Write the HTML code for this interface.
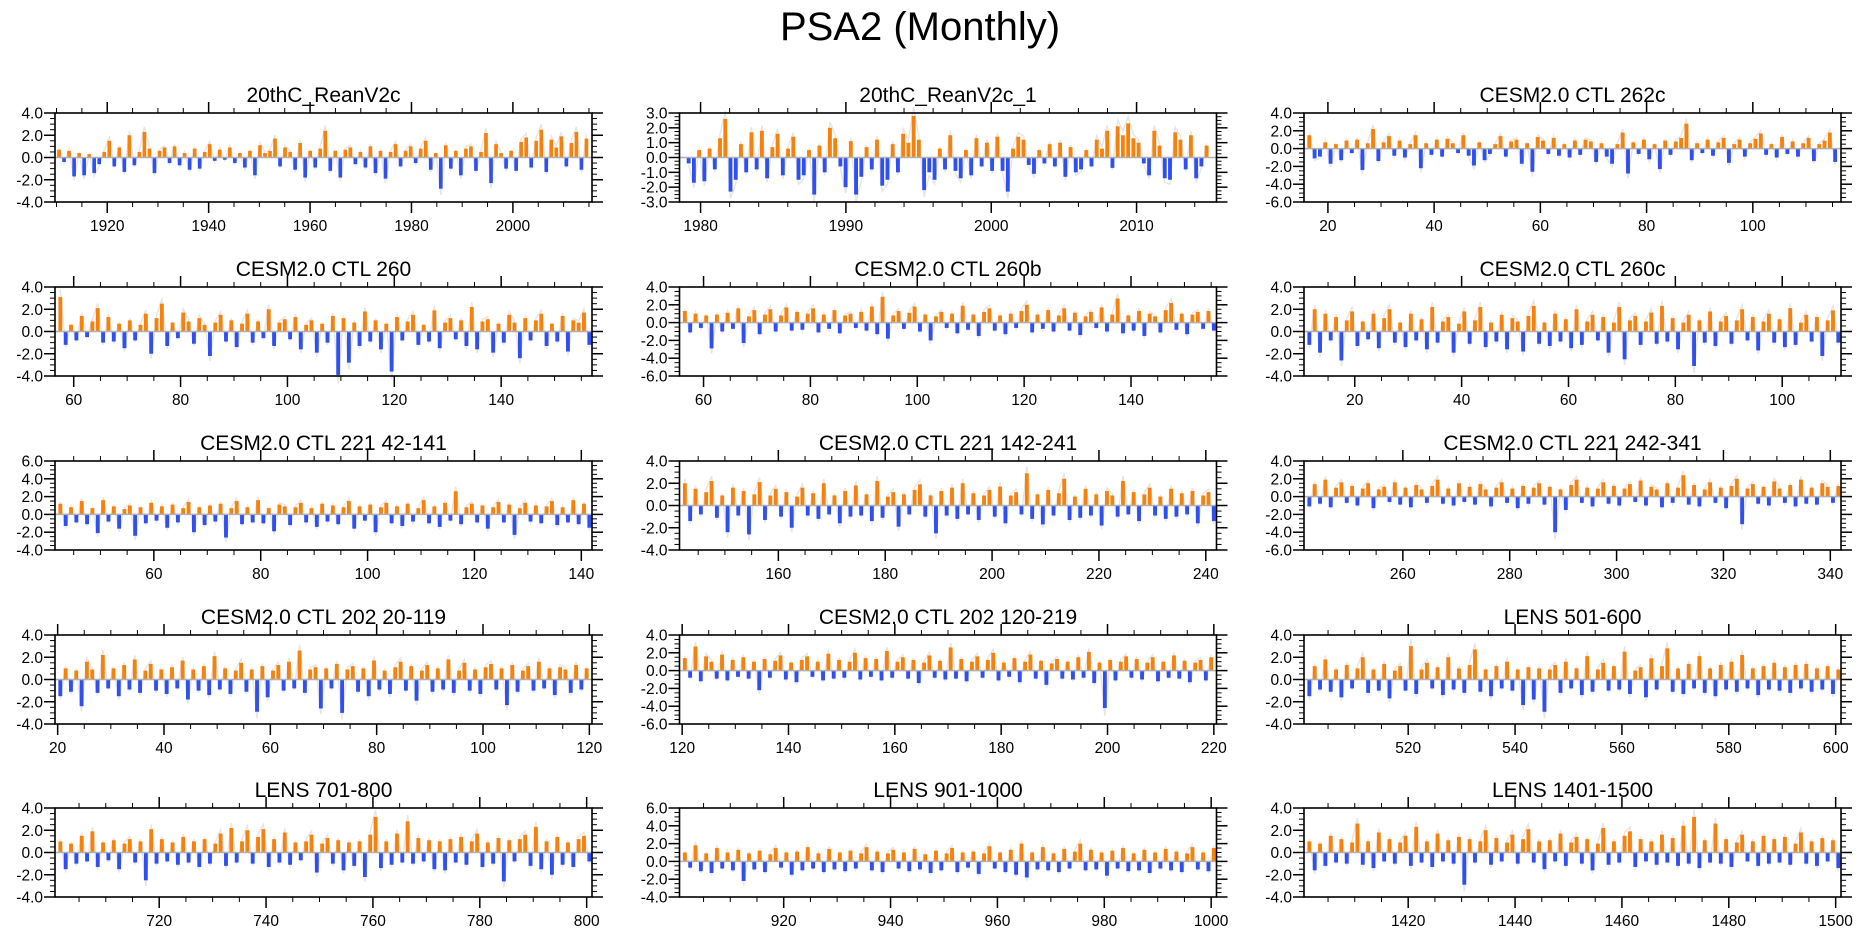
<!DOCTYPE html>
<html><head><meta charset="utf-8"><style>
body{margin:0;background:#fff;width:1861px;height:936px;overflow:hidden}
svg{display:block}
text{font-family:"Liberation Sans",sans-serif;fill:#000}
</style></head><body>
<svg id="c" width="1861" height="936">
<text x="920" y="40" font-size="40" text-anchor="middle">PSA2 (Monthly)</text>
</svg>
<script>
const titles=["20thC_ReanV2c","20thC_ReanV2c_1","CESM2.0 CTL 262c","CESM2.0 CTL 260","CESM2.0 CTL 260b","CESM2.0 CTL 260c","CESM2.0 CTL 221 42-141","CESM2.0 CTL 221 142-241","CESM2.0 CTL 221 242-341","CESM2.0 CTL 202 20-119","CESM2.0 CTL 202 120-219","LENS 501-600","LENS 701-800","LENS 901-1000","LENS 1401-1500"];
const xMin=[1909.7,1978.55,15.5,56.5,55.5,10.5,41.5,141.5,241.5,19.5,119.5,500.5,700.5,900.5,1400.5];
const xMax=[2015.6,2015.5,116.6,157,156,111,142,242,342,120.5,220.5,601,801,1001,1501];
const dataStart=[1910,1979,16,57,56,11,42,142,242,20,120,501,701,901,1401];
const dataEnd=[2015,2015,116,157,156,111,142,242,342,120,220,601,801,1001,1501];
const yMin=[-4,-3,-6,-4,-6,-4,-4,-4,-6,-4,-6,-4,-4,-4,-4];
const yMax=[4,3,4,4,4,4,6,4,4,4,4,4,4,6,4];
const yStep=[2,1,2,2,2,2,2,2,2,2,2,2,2,2,2];
const xMajor=[20,10,20,20,20,20,20,20,20,20,20,20,20,20,20];
const xMinorStep=[5,2,5,5,5,5,5,5,5,5,5,5,5,5,5];
const s1=[0.7,-0.4,0.6,-1.7,0.4,-1.6,0.3,-1.4,-0.6,0.5,1.5,-0.8,0.9,-1.3,2.0,-0.7,0.5,2.3,0.8,-1.4,0.6,0.9,-0.5,1.0,-0.7,0.4,-1.1,0.8,-1.0,0.5,1.2,-0.3,0.7,-0.2,0.9,-0.5,0.4,-0.9,0.6,-1.6,1.1,0.4,0.6,1.7,-0.8,0.9,0.5,-1.1,1.3,-1.8,0.6,-0.9,0.8,2.4,-1.2,0.6,-1.8,0.7,0.9,-0.6,0.5,-0.9,1.0,-1.4,0.6,-1.9,0.5,1.2,-0.8,0.6,1.0,-0.5,0.8,1.5,-1.1,0.4,-2.8,1.1,-1.0,0.6,-1.6,0.8,1.0,-1.2,0.5,2.2,-2.3,1.2,0.4,-1.0,0.6,-1.2,1.4,1.8,-0.9,1.5,2.5,-1.3,1.6,0.9,1.9,-0.8,1.3,2.3,-1.1,1.7];
const s2=[-0.4,-1.7,0.5,-1.6,0.6,-0.8,1.3,2.6,-2.3,-1.5,0.9,-1.0,1.7,-0.8,1.8,-1.4,0.7,1.6,-1.2,0.6,1.4,-1.5,-1.2,0.5,-2.5,0.8,-1.0,2.0,1.3,-0.6,-2.0,1.1,-2.5,-1.3,0.7,-0.8,1.2,-1.9,-1.5,0.9,-1.0,1.6,1.0,2.8,1.2,-2.2,-1.0,-1.5,0.6,-0.8,1.5,-0.9,-1.4,0.5,-1.2,1.3,-0.6,1.0,-0.9,1.4,-0.9,-2.3,0.6,1.4,1.2,-0.5,-1.1,0.5,-0.4,0.9,-0.6,1.0,-1.3,0.7,-1.0,-0.8,0.5,-0.6,1.2,0.6,1.8,-0.7,2.1,1.5,2.3,1.3,1.0,-0.4,-1.2,1.8,0.8,-1.4,-1.5,1.7,1.2,-0.8,1.5,-1.4,-0.6,0.8];
const s3=[1.5,-1.1,-0.9,0.7,-1.7,0.5,-1.3,0.9,-0.5,1.0,-2.4,0.6,2.2,-1.4,0.7,1.4,-0.8,0.9,-1.0,0.5,1.5,-2.2,0.6,-0.7,1.0,-0.9,1.1,0.6,-0.5,1.5,-0.8,-1.9,0.7,-1.3,-0.6,0.5,1.4,-0.9,0.8,1.0,-1.7,0.6,-2.6,1.3,0.9,-0.6,1.2,-0.8,0.5,-1.0,0.9,-0.7,1.0,0.8,-1.5,0.6,-0.9,-1.7,0.5,1.8,-2.8,0.7,-0.6,1.0,-1.2,0.5,-2.3,0.9,-0.7,0.8,1.2,2.8,-1.3,0.6,-0.5,1.0,-0.8,0.7,1.2,-1.6,0.5,1.0,-0.9,0.6,1.1,1.7,-0.7,0.5,-1.0,1.3,-0.6,0.8,-0.9,0.6,1.2,-1.4,0.5,0.9,1.8,-1.5];
const s4=[3.1,-1.2,0.6,-0.8,1.4,-0.5,0.9,2.1,-1.0,1.3,-0.9,0.7,-1.5,1.0,-0.8,0.6,1.6,-2.0,1.2,2.5,-1.3,0.8,-0.6,1.7,0.9,-1.1,1.2,0.6,-2.2,0.8,1.5,-0.9,1.0,-1.4,0.7,1.6,-1.0,0.9,-0.6,2.0,-1.3,0.8,1.1,-0.7,1.3,-1.6,0.6,1.0,-1.9,0.7,-1.0,1.4,-3.9,1.2,-2.8,0.8,-1.3,1.8,-0.9,1.0,-1.6,0.7,-3.6,1.3,-0.8,0.9,1.5,-1.2,0.6,-0.9,1.9,-1.5,0.8,1.2,-0.7,1.0,-1.3,2.2,-1.6,0.9,1.1,-1.9,0.7,-1.0,1.5,0.8,-2.4,1.2,-0.8,1.0,1.6,-1.3,0.7,-0.9,1.4,-1.8,1.0,0.8,1.7,-1.2];
const s5=[1.3,-1.1,1.0,-0.6,0.8,-2.9,0.9,-1.0,1.1,-0.7,1.6,-2.3,0.7,1.4,-1.3,0.9,1.5,-1.0,0.8,1.7,-0.9,1.2,-0.8,1.0,1.6,-1.1,0.9,-0.7,1.4,-1.2,0.8,1.0,-0.6,1.2,-0.9,1.8,-1.3,2.9,-1.8,0.8,1.3,-0.7,1.1,1.8,-1.0,0.9,-2.0,0.7,1.2,-0.6,1.0,-1.2,1.9,-0.8,0.9,-1.5,1.2,1.6,-0.9,0.8,-1.3,1.0,-0.6,1.3,2.0,-1.1,0.9,-0.7,1.4,-1.0,0.8,1.6,-0.9,1.1,-1.4,0.7,1.2,-0.6,1.7,-1.0,0.9,2.7,-1.2,0.8,-0.9,1.3,-1.5,1.0,0.7,-1.1,1.4,2.2,-0.8,1.0,-1.3,0.9,1.2,-0.7,1.3,-0.9];
const s6=[-1.2,2.0,-1.9,1.6,-0.8,1.3,-2.6,1.0,1.8,-1.3,0.9,-0.7,1.6,-1.5,1.2,2.0,-1.0,0.8,-1.4,1.6,-0.8,1.1,-1.6,2.2,-1.0,0.9,1.3,-1.9,0.7,1.8,-1.1,1.0,2.2,-1.4,0.8,-0.9,1.5,-1.6,1.2,0.9,-1.8,1.4,2.3,-1.1,0.8,-1.3,1.6,-0.9,1.1,-1.5,2.0,-1.2,0.9,1.5,-0.8,1.3,-1.9,0.8,2.2,-2.5,1.0,1.4,-1.2,0.9,1.7,-1.1,2.3,-0.9,1.2,-1.6,0.8,1.5,-3.1,1.0,-1.0,1.8,-1.3,0.9,1.4,-1.1,1.0,2.0,-0.8,1.3,-1.7,0.9,1.6,-1.0,1.1,-1.4,2.1,-1.2,0.8,1.5,-0.9,1.3,-2.2,1.0,1.9,-1.0];
const s7=[1.2,-1.3,0.8,-0.9,1.5,-1.1,0.7,-2.1,1.6,-0.8,0.9,-1.6,0.6,1.0,-2.4,0.8,-1.0,1.3,-0.7,0.9,-1.5,1.1,-0.9,0.7,1.4,-2.0,0.8,-1.2,1.0,-0.8,1.2,-2.6,0.7,1.5,-1.1,0.8,-0.9,1.6,-1.0,0.7,-1.9,1.1,0.9,-1.2,0.8,1.3,-0.9,0.7,-1.4,1.2,-0.8,1.0,-1.1,0.8,1.5,-1.6,0.9,-0.7,1.1,-2.0,0.8,1.3,-1.0,0.9,-1.3,1.2,-0.8,0.7,1.6,-1.0,0.9,-1.4,1.3,-0.7,2.6,-1.1,0.8,1.2,-0.9,1.0,-1.6,0.8,1.4,-0.9,1.1,-2.3,0.7,1.3,-0.8,1.0,-1.0,0.9,1.5,-1.2,0.8,-0.9,1.6,-1.1,1.2,-1.5];
const s8=[2.0,-1.4,1.5,-0.8,1.2,2.2,-1.1,0.9,-2.4,1.6,-0.9,1.3,-2.6,1.0,2.1,-1.3,0.9,1.5,-1.0,1.2,-2.0,0.8,1.6,-0.9,1.1,-1.2,2.0,-0.8,0.9,-1.6,1.3,-1.0,1.8,-0.9,1.0,-1.4,2.2,-1.1,0.8,1.2,-1.9,1.0,-0.8,1.4,1.9,-1.0,0.9,-2.5,1.3,-0.9,1.6,-1.2,2.0,-0.8,1.1,-1.3,0.9,1.4,-1.0,1.7,-1.6,0.9,1.2,-0.8,2.9,-1.2,1.0,-1.7,1.4,-0.9,1.1,2.4,-1.3,0.8,-1.1,1.5,-0.9,1.0,-1.8,1.3,0.9,-1.0,2.2,-0.8,1.2,-1.4,1.0,1.6,-0.9,0.8,-1.2,1.5,-1.0,1.1,-0.8,1.3,-1.6,0.9,1.2,-1.4];
const s9=[-1.1,1.4,-0.8,1.9,-1.2,1.0,1.6,-0.7,1.2,-1.0,0.9,1.5,-1.3,0.8,1.1,-0.6,1.6,-0.9,1.0,-1.2,1.3,0.8,-0.7,1.2,1.9,-0.8,0.9,-1.0,1.5,-0.6,1.1,-0.9,1.4,0.8,-1.1,1.0,1.6,-0.7,0.9,-1.3,1.2,-0.8,1.0,1.5,-0.9,1.1,-4.0,0.8,-1.5,1.3,1.9,-0.7,1.0,-1.1,0.9,1.6,-0.8,1.2,-1.0,0.9,1.4,-0.6,1.8,-1.0,1.1,0.8,-1.2,1.5,-0.7,1.0,2.4,-0.9,1.3,-1.1,0.8,1.6,-0.7,1.0,-1.3,1.2,2.0,-3.1,0.9,1.4,-0.8,1.1,-1.0,1.7,0.9,-0.7,1.3,-1.1,1.9,-0.8,1.0,-0.9,1.5,1.1,-0.7,1.2];
const s10=[-1.5,1.0,-1.1,0.8,-2.4,1.6,0.9,-1.2,2.2,-0.8,1.0,-1.5,1.3,-0.9,1.8,-1.2,0.8,1.4,-1.0,0.9,-1.3,1.1,-0.8,1.7,-1.8,0.9,-1.0,1.2,-1.4,2.1,-0.9,1.0,-1.3,0.8,1.5,-1.1,0.9,-2.9,1.2,-1.6,0.8,1.3,-1.0,1.6,-0.8,2.6,-1.2,0.9,1.1,-2.6,1.0,-0.8,1.4,-3.0,0.9,1.2,-1.1,1.0,-1.5,1.7,-0.9,0.8,-1.3,1.1,1.6,-1.0,1.2,-1.9,0.8,1.3,-1.1,1.0,-0.9,1.8,-1.2,0.8,1.5,-1.0,0.9,-1.3,1.1,1.4,-0.9,1.0,-2.3,1.3,-1.1,0.8,1.2,-1.0,1.6,-0.8,1.0,-1.4,1.1,0.9,-1.2,1.3,-0.9,1.0];
const s11=[1.4,-0.8,2.7,-1.2,1.6,1.0,-0.9,1.8,-1.1,1.2,-0.7,1.5,-0.9,1.0,-2.2,1.3,-0.8,1.1,1.7,-1.0,0.9,-1.3,1.2,1.6,-0.7,1.0,-1.1,1.9,-0.9,1.2,-0.8,1.0,2.0,-1.0,1.4,-0.7,1.3,-1.1,2.2,-0.8,1.0,1.5,-0.9,1.2,-1.4,0.9,1.7,-0.8,1.1,-1.0,2.6,-0.9,1.3,-1.2,1.0,1.6,-0.8,1.2,2.0,-1.1,0.9,-0.7,1.4,-1.3,1.0,1.8,-0.9,1.1,-1.6,0.8,1.3,-0.9,1.0,-1.0,1.5,-0.8,2.1,-1.4,0.9,-4.2,1.2,-1.1,1.0,1.6,-0.8,1.3,-1.0,0.9,1.5,-1.2,1.0,-0.8,1.7,-0.9,1.1,-1.3,0.9,1.2,-1.1,1.5];
const s12=[-1.5,1.2,-0.9,1.8,-1.1,0.9,-1.6,1.3,-0.8,1.0,2.0,-1.2,0.9,-1.0,1.4,-1.7,0.8,1.2,-1.0,3.0,-1.3,0.9,1.5,-0.8,1.1,-1.4,2.0,-0.9,1.0,-1.2,1.3,2.7,-1.1,0.9,-1.5,1.2,-0.8,1.6,-1.0,0.9,-2.3,1.1,-1.8,1.0,-2.9,0.9,1.3,-1.2,1.6,-0.8,1.0,-1.4,2.1,-1.1,0.9,1.5,-1.0,1.2,-0.9,2.5,-1.3,0.8,1.1,-1.6,1.9,-0.9,1.2,2.8,-1.1,1.0,-1.3,1.4,-0.8,2.1,-1.2,1.0,-1.5,1.3,-0.9,1.6,-1.1,2.2,-0.8,1.0,-1.4,1.2,-0.9,1.5,-1.0,1.1,-1.2,1.3,-0.8,1.4,-1.1,1.0,-0.9,1.2,-1.3,0.9];
const s13=[1.0,-1.5,0.8,-1.0,1.5,-0.8,1.9,-1.3,0.9,-0.7,1.1,-1.5,0.8,1.2,-0.9,1.0,-2.5,2.1,-1.0,1.2,-0.8,0.9,-1.1,1.4,-0.9,1.0,-1.3,1.2,-1.0,0.8,1.7,-1.2,2.2,-0.9,1.0,2.0,-1.0,1.4,2.1,-1.3,1.2,-0.9,1.8,-1.1,0.9,-0.7,1.0,1.6,-1.8,0.8,1.3,-1.0,1.1,-1.6,0.9,-1.2,1.0,-2.2,1.6,3.2,-1.4,1.0,-1.1,1.7,-0.9,2.8,-1.0,1.3,-0.8,1.1,-1.5,1.0,-1.6,1.2,-0.9,1.4,-1.1,1.0,1.7,-1.3,0.9,-1.0,1.3,-2.6,1.1,-0.8,1.2,1.6,-1.2,2.3,-1.5,1.0,-2.0,1.4,-1.1,0.9,-1.3,1.2,1.5,-0.8];
const s14=[1.0,-0.7,1.8,-1.1,0.9,-1.3,1.5,-0.8,1.0,-1.0,1.3,-2.2,0.9,-0.9,1.2,-1.2,0.8,1.5,-0.7,1.0,-1.5,1.1,-1.0,1.6,-0.8,0.9,-1.2,1.4,-0.9,1.0,-1.1,1.2,-0.8,0.9,1.6,-1.0,1.1,-1.2,0.9,1.3,-0.8,1.0,-1.1,1.4,-0.9,0.8,-1.3,1.2,-1.0,0.9,1.5,-1.2,1.0,-0.7,1.1,-1.4,0.9,1.7,-0.8,1.0,-1.2,1.3,-1.5,2.0,-1.8,1.0,-0.9,1.6,-1.0,0.9,-1.2,1.4,-0.8,1.1,2.0,-1.0,1.3,-0.9,1.0,-1.6,1.2,-0.8,1.5,-1.1,0.9,-1.0,1.3,-1.3,1.0,-0.8,1.4,-1.0,1.1,-1.2,0.9,1.6,-0.9,1.0,-1.1,1.5];
const s15=[1.0,-1.6,0.8,-1.2,1.5,-0.9,1.2,-1.0,0.9,2.6,-1.1,1.0,-1.4,1.8,-0.8,1.2,-1.0,0.9,1.5,-1.2,2.3,-0.9,1.0,-1.3,1.7,-0.8,1.1,-1.0,1.4,-2.9,1.2,-0.9,1.0,2.0,-1.1,1.3,-0.8,0.9,1.6,-1.0,1.2,2.1,-0.9,1.0,-1.5,1.1,-0.8,1.7,-1.2,0.9,1.4,-1.0,1.2,-1.6,0.8,2.2,-1.1,1.0,-0.9,1.5,1.9,-1.3,1.2,-0.8,1.0,-1.1,1.6,-0.9,1.3,-1.2,2.4,-1.0,3.2,-1.4,1.1,-0.9,2.6,-1.0,1.2,-1.3,0.9,1.6,-0.8,1.0,-1.2,1.5,-1.0,1.2,-0.9,1.4,-1.1,0.8,1.8,-1.0,1.0,-1.2,1.3,-0.8,1.1,-1.4];
const series=[s1,s2,s3,s4,s5,s6,s7,s8,s9,s10,s11,s12,s13,s14,s15];

const NS='http://www.w3.org/2000/svg';
const svg=document.getElementById('c');
function mk(tag,attrs,parent){const e=document.createElementNS(NS,tag);for(const k in attrs)e.setAttribute(k,attrs[k]);(parent||svg).appendChild(e);return e;}
const colX=[55,679.5,1304], W=537;
const rowY=[113,287,461,635,808], H=89;
for(let p=0;p<15;p++){
  const L=colX[p%3], T=rowY[Math.floor(p/3)], R=L+W, B=T+H;
  const g=mk('g',{});
  
  
  const xs=v=>L+(v-xMin[p])/(xMax[p]-xMin[p])*W;
  const ys=v=>B-(v-yMin[p])/(yMax[p]-yMin[p])*H;
  const t=mk('text',{x:(L+R)/2,y:T-11,'font-size':21,'text-anchor':'middle'},g);
  t.textContent=titles[p];
  
  
  const d=series[p], n=d.length, step=(dataEnd[p]-dataStart[p])/n;
  let pts=[];
  for(let i=0;i<n;i++){pts.push(xs(dataStart[p]+(i+0.5)*step).toFixed(1)+','+ys(d[i]*1.2).toFixed(1));}
  const fl=mk('polyline',{points:pts.join(' '),fill:'none',stroke:'#e6e6e6','stroke-width':1.5},g);
  
  
  const bw=W/n*0.72;
  for(let i=0;i<n;i++){
    const cx=xs(dataStart[p]+(i+0.5)*step), v=d[i];
    const y0=ys(0), y1=ys(v);
    const r=mk('rect',{x:(cx-bw/2).toFixed(2),y:Math.min(y0,y1).toFixed(2),width:bw.toFixed(2),height:Math.abs(y1-y0).toFixed(2),fill:v>=0?'#f5820f':'#3050ee'},g);
    
    
  }
  const zl=mk('line',{x1:L,x2:R,y1:ys(0),y2:ys(0),stroke:'#b0b0b0','stroke-width':1.5},g);
  
  
  const bx=mk('rect',{x:L,y:T,width:W,height:H,fill:'none',stroke:'#000','stroke-width':1.6},g);
  
  
  const minorY=yStep[p]/4;
  for(let v=yMin[p];v<=yMax[p]+1e-6;v+=minorY){
    const y=ys(v), maj=Math.abs(v/yStep[p]-Math.round(v/yStep[p]))<1e-6, len=maj?11:5;
    mk('line',{x1:L-len,x2:L,y1:y,y2:y,stroke:'#000','stroke-width':maj?1.5:1},g);
    mk('line',{x1:R,x2:R+len,y1:y,y2:y,stroke:'#000','stroke-width':maj?1.5:1},g);
    if(maj){const tl=mk('text',{x:L-12,y:y+5.5,'font-size':15.5,'text-anchor':'end'},g);
      tl.textContent=v.toFixed(1);
      
      }
  }
  const ms=xMinorStep[p];
  for(let v=Math.ceil(xMin[p]/ms)*ms;v<=xMax[p];v+=ms){
    const x=xs(v), maj=v%xMajor[p]===0, len=maj?11:5;
    mk('line',{x1:x,x2:x,y1:B,y2:B+len,stroke:'#000','stroke-width':maj?1.5:1},g);
    mk('line',{x1:x,x2:x,y1:T-len,y2:T,stroke:'#000','stroke-width':maj?1.5:1},g);
    if(maj){const tl=mk('text',{x:x,y:B+29,'font-size':15.5,'text-anchor':'middle'},g);
      tl.textContent=String(v);
      
      }
  }
}
</script>
</body></html>
